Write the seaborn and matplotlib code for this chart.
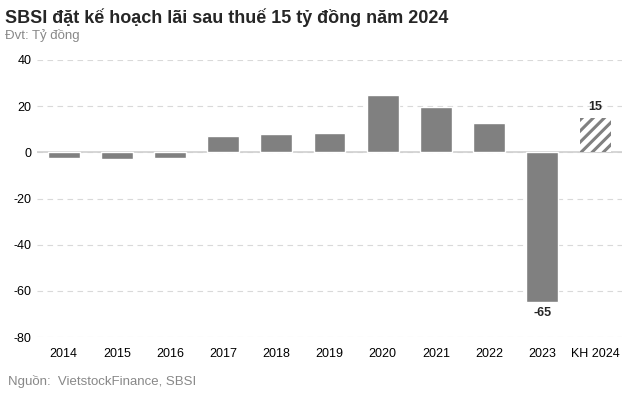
import matplotlib
matplotlib.use("Agg")
import matplotlib.pyplot as plt
import seaborn as sns
import pandas as pd

categories = ["2014", "2015", "2016", "2017", "2018", "2019", "2020", "2021", "2022", "2023", "KH 2024"]
values = [-2.6, -2.8, -2.3, 7.0, 8.0, 8.5, 24.8, 19.6, 12.6, -64.8, 15.0]
yticks = [40, 20, 0, -20, -40, -60, -80]

sns.set_theme(style="white")
plt.rcParams['font.family'] = ['Liberation Sans', 'DejaVu Sans']
plt.rcParams['hatch.linewidth'] = 2.2
plt.rcParams['hatch.color'] = '#808080'

df = pd.DataFrame({"cat": categories, "val": values})

fig = plt.figure(figsize=(6.38, 3.99), dpi=100)
ax = fig.add_axes([0.058, 0.155, 0.917, 0.695])

sns.barplot(data=df, x="cat", y="val", color="#808080", width=0.6, saturation=1, ax=ax, zorder=3)

last = ax.patches[-1]
last.set_facecolor("white")
last.set_edgecolor("#808080")
last.set_linewidth(0)
last.set_hatch("///")

ax.set_ylim(-80, 40)
ax.set_xlim(-0.5, 10.5)
ax.set_yticks(yticks)
ax.set_yticklabels([str(t) for t in yticks])
ax.yaxis.grid(True, linestyle=(0, (5, 4)), color="#d9d9d9", linewidth=0.8)
ax.set_axisbelow(True)
ax.axhline(0, color="#d0d0d0", linewidth=1.2, zorder=2)
for s in ax.spines.values():
    s.set_visible(False)
ax.set_xlabel("")
ax.set_ylabel("")
ax.tick_params(axis="both", length=0, labelsize=9, colors="black", pad=4)
ax.tick_params(axis="x", pad=8)

ax.text(10, 15 + 2, "15", ha="center", va="bottom", fontsize=9, fontweight="bold")
ax.text(9, -64.8 - 2, "-65", ha="center", va="top", fontsize=9, fontweight="bold")

fig.text(0.008, 0.955, "SBSI đặt kế hoạch lãi sau thuế 15 tỷ đồng năm 2024", fontsize=13,
         fontweight="bold", ha="left", va="center")
fig.text(0.008, 0.912, "Đvt: Tỷ đồng", fontsize=9.5, color="#888888", ha="left", va="center")
fig.text(0.013, 0.045, "Nguồn:  VietstockFinance, SBSI", fontsize=9.5, color="#888888", ha="left", va="center")

fig.savefig("out.png", dpi=100, facecolor="white")
